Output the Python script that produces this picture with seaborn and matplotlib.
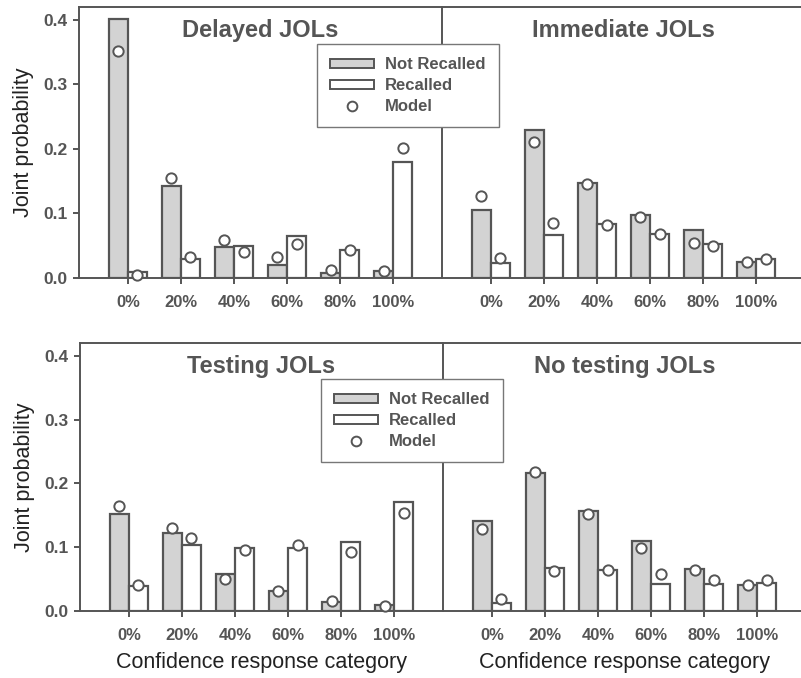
import numpy as np
import pandas as pd
import matplotlib.pyplot as plt
import seaborn as sns
from matplotlib.patches import Patch
from matplotlib.lines import Line2D

sns.set_style('ticks')
plt.rcParams['font.family'] = ['Liberation Sans', 'DejaVu Sans']

categories = ['0%', '20%', '40%', '60%', '80%', '100%']
statuses = ['Not Recalled', 'Recalled']
titles = ['Delayed JOLs', 'Immediate JOLs', 'Testing JOLs', 'No testing JOLs']

# observed joint probabilities (bars)
delayed_not = [0.401, 0.143, 0.048, 0.020, 0.007, 0.011]
delayed_rec = [0.009, 0.029, 0.050, 0.065, 0.044, 0.180]
immediate_not = [0.105, 0.230, 0.148, 0.098, 0.075, 0.025]
immediate_rec = [0.024, 0.067, 0.084, 0.068, 0.052, 0.030]
testing_not = [0.152, 0.123, 0.058, 0.031, 0.014, 0.010]
testing_rec = [0.039, 0.103, 0.098, 0.098, 0.108, 0.171]
notesting_not = [0.141, 0.216, 0.156, 0.110, 0.066, 0.041]
notesting_rec = [0.012, 0.068, 0.065, 0.043, 0.042, 0.044]

# model predictions (circles)
delayed_model_not = [0.352, 0.155, 0.059, 0.033, 0.013, 0.011]
delayed_model_rec = [0.005, 0.033, 0.041, 0.053, 0.044, 0.202]
immediate_model_not = [0.127, 0.211, 0.145, 0.094, 0.055, 0.025]
immediate_model_rec = [0.031, 0.085, 0.082, 0.068, 0.049, 0.030]
testing_model_not = [0.165, 0.130, 0.050, 0.031, 0.015, 0.008]
testing_model_rec = [0.041, 0.115, 0.095, 0.103, 0.092, 0.153]
notesting_model_not = [0.128, 0.218, 0.152, 0.099, 0.064, 0.040]
notesting_model_rec = [0.019, 0.063, 0.065, 0.058, 0.049, 0.048]

bars = [(delayed_not, delayed_rec), (immediate_not, immediate_rec),
        (testing_not, testing_rec), (notesting_not, notesting_rec)]
models = [(delayed_model_not, delayed_model_rec), (immediate_model_not, immediate_model_rec),
          (testing_model_not, testing_model_rec), (notesting_model_not, notesting_model_rec)]

grey = '#555555'
fig = plt.figure(figsize=(8.01, 6.78), dpi=100)
W, H = 801, 678
boxes = [(79, 7, 363, 271), (442, 7, 363, 271), (80, 343, 363, 268), (443, 343, 363, 268)]
axes = [fig.add_axes([x / W, 1 - (y + h) / H, w / W, h / H]) for x, y, w, h in boxes]

for i, ax in enumerate(axes):
    nr, rc = bars[i]
    df = pd.DataFrame({'category': categories * 2,
                       'status': [statuses[0]] * 6 + [statuses[1]] * 6,
                       'prob': nr + rc})
    sns.barplot(data=df, x='category', y='prob', hue='status', hue_order=statuses,
                palette={'Not Recalled': '#d3d3d3', 'Recalled': 'white'},
                edgecolor=grey, linewidth=1.6, width=0.72, saturation=1,
                legend=False, ax=ax)
    for cont, mvals in zip(ax.containers, models[i]):
        xs = [b.get_x() + b.get_width() / 2 for b in cont]
        ax.scatter(xs, mvals, s=55, facecolor='white', edgecolor=grey,
                   linewidth=1.4, zorder=5, clip_on=False)
    ax.set_ylim(0, 0.42)
    ax.set_xlim(-0.92, 5.92)
    ax.set_yticks([0, 0.1, 0.2, 0.3, 0.4])
    for s in ['left', 'top', 'bottom']:
        ax.spines[s].set_color(grey)
        ax.spines[s].set_linewidth(1.4)
    ax.spines['right'].set_visible(False)
    ax.tick_params(axis='x', length=4, width=1.4, color=grey, pad=8,
                   labelsize=12, labelcolor=grey)
    ax.tick_params(axis='y', length=4, width=1.4, color=grey, pad=4,
                   labelsize=12.5, labelcolor=grey)
    for lab in ax.get_xticklabels() + ax.get_yticklabels():
        lab.set_fontweight('bold')
    ax.text(0.5, 0.955, titles[i], transform=ax.transAxes, ha='center', va='top',
            fontsize=17, fontweight='bold', color=grey)
    if i % 2 == 1:
        ax.tick_params(axis='y', length=0, labelleft=False)
        ax.set_ylabel('')
    else:
        ax.set_ylabel('Joint probability', fontsize=15.5, color='#222222')
        ax.yaxis.set_label_coords(-0.125, 0.5)
    if i >= 2:
        ax.set_xlabel('Confidence response category', fontsize=15.5, color='#222222',
                      labelpad=7)
    else:
        ax.set_xlabel('')

handles = [Patch(facecolor='#d3d3d3', edgecolor=grey, linewidth=1.4),
           Patch(facecolor='white', edgecolor=grey, linewidth=1.4),
           Line2D([], [], marker='o', linestyle='none', markersize=7,
                  markerfacecolor='white', markeredgecolor=grey, markeredgewidth=1.4)]
for anchor in [(317 / W, 1 - 44 / H), (321 / W, 1 - 379 / H)]:
    leg = fig.legend(handles, ['Not Recalled', 'Recalled', 'Model'], loc='upper left',
                     bbox_to_anchor=anchor, frameon=True, fancybox=False,
                     edgecolor='#777777', framealpha=1, fontsize=12,
                     handlelength=2.6, handleheight=0.45, labelspacing=0.35,
                     borderpad=0.8, handletextpad=0.7, borderaxespad=0)
    leg.get_frame().set_linewidth(1.0)
    for t in leg.get_texts():
        t.set_fontweight('bold')
        t.set_color(grey)

fig.savefig('out.png', dpi=100)
